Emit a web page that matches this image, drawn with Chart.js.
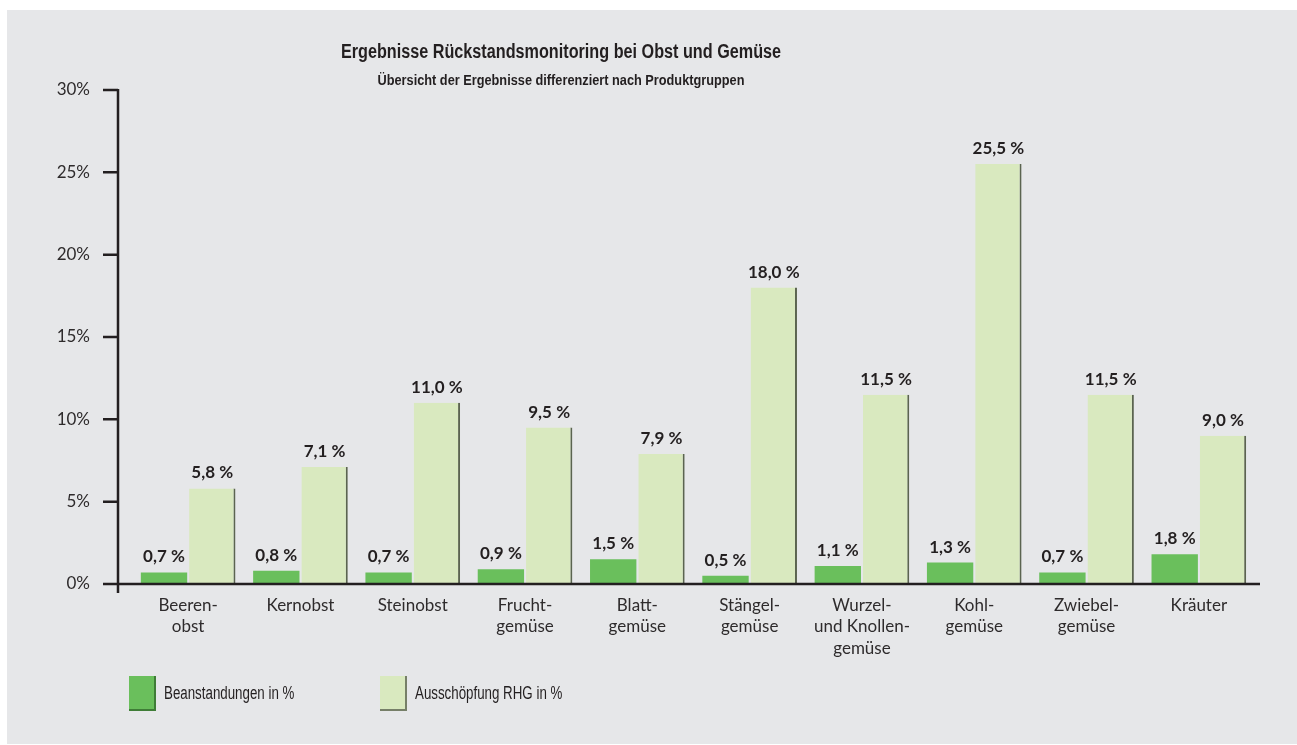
<!DOCTYPE html>
<html lang="de">
<head>
<meta charset="utf-8">
<script src="https://cdn.jsdelivr.net/npm/chart.js@4/dist/chart.umd.min.js"></script>
<style>
  html, body { margin: 0; padding: 0; background: #fff; }
  #panel { position: absolute; left: 7px; top: 10px; width: 1290px; height: 734px; background: #e6e7e9; }
  #chartBox { position: absolute; left: 0; top: 0; width: 1297px; height: 745px; }
  .ttl { position: absolute; left: 561px; white-space: nowrap;
         font-family: "Liberation Sans", sans-serif; font-weight: bold; color: #231f20; }
  #title { top: 39px; font-size: 20px; line-height: 24px; transform: translateX(-50%) scaleX(0.81); }
  #subtitle { top: 71px; font-size: 15px; line-height: 18px; transform: translateX(-50%) scaleX(0.85); }
  .leg { position: absolute; top: 676px; height: 35px; display: flex; align-items: center;
         font-family: "Liberation Sans", sans-serif; font-size: 18px; color: #231f20; white-space: nowrap; }
  .leg span { display: inline-block; transform: scaleX(0.74); transform-origin: left center; }
  .sw { width: 25px; height: 33px; margin-right: 8px; border-right: 2px solid; border-bottom: 2px solid; }
</style>
</head>
<body>
<div id="panel"></div>
<div id="chartBox"><canvas id="resChart" width="1297" height="745"></canvas></div>
<div id="title" class="ttl">Ergebnisse Rückstandsmonitoring bei Obst und Gemüse</div>
<div id="subtitle" class="ttl">Übersicht der Ergebnisse differenziert nach Produktgruppen</div>
<div id="legend"></div>
<script>
const categories = [
  ["Beeren-", "obst"],
  "Kernobst",
  "Steinobst",
  ["Frucht-", "gemüse"],
  ["Blatt-", "gemüse"],
  ["Stängel-", "gemüse"],
  ["Wurzel-", "und Knollen-", "gemüse"],
  ["Kohl-", "gemüse"],
  ["Zwiebel-", "gemüse"],
  "Kräuter"
];
const beanstandungen = [0.7, 0.8, 0.7, 0.9, 1.5, 0.5, 1.1, 1.3, 0.7, 1.8];
const ausschoepfung = [5.8, 7.1, 11.0, 9.5, 7.9, 18.0, 11.5, 25.5, 11.5, 9.0];
const seriesNames = ["Beanstandungen in %", "Ausschöpfung RHG in %"];
const yTicks = [0, 5, 10, 15, 20, 25, 30];

const darkGreen = "#6abf5c";
const lightGreen = "#d9e9bf";
const ink = "#231f20";

// axis lines drawn slightly outside the plot, like the original
const axisLines = {
  id: "axisLines",
  afterDraw(chart) {
    const ctx = chart.ctx;
    const a = chart.chartArea;
    const y = chart.scales.y;
    const ax = a.left - 14;
    ctx.save();
    ctx.strokeStyle = ink;
    ctx.lineWidth = 2.5;
    ctx.beginPath();
    ctx.moveTo(ax, y.getPixelForValue(30) - 1);
    ctx.lineTo(ax, y.getPixelForValue(0) + 9);
    yTicks.forEach(v => {
      const py = y.getPixelForValue(v);
      ctx.moveTo(ax - 15, py);
      ctx.lineTo(ax, py);
    });
    ctx.moveTo(ax, y.getPixelForValue(0));
    ctx.lineTo(a.right + 5, y.getPixelForValue(0));
    ctx.stroke();
    ctx.restore();
  }
};

const valueLabels = {
  id: "valueLabels",
  afterDatasetsDraw(chart) {
    const ctx = chart.ctx;
    ctx.save();
    ctx.font = "bold 17px Lato, sans-serif";
    ctx.fillStyle = ink;
    ctx.textAlign = "center";
    ctx.textBaseline = "alphabetic";
    chart.data.datasets.forEach((ds, i) => {
      chart.getDatasetMeta(i).data.forEach((bar, j) => {
        const txt = ds.data[j].toFixed(1).replace(".", ",") + "\u202f%";
        ctx.fillText(txt, bar.x, bar.y - 10);
      });
    });
    ctx.restore();
  }
};

const ctx = document.getElementById("resChart").getContext("2d");
new Chart(ctx, {
  type: "bar",
  data: {
    labels: categories,
    datasets: [{
      label: seriesNames[0],
      data: beanstandungen,
      backgroundColor: darkGreen,
      borderWidth: 0,
      barPercentage: 0.96,
      categoryPercentage: 0.86
    }, {
      label: seriesNames[1],
      data: ausschoepfung,
      backgroundColor: lightGreen,
      borderColor: "#5b6450",
      borderWidth: { top: 0, right: 2, bottom: 0, left: 0 },
      borderSkipped: false,
      barPercentage: 0.96,
      categoryPercentage: 0.86
    }]
  },
  options: {
    responsive: false,
    animation: false,
    layout: { padding: { top: 90, right: 42, left: 0, bottom: 0 } },
    plugins: {
      legend: { display: false },
      tooltip: { enabled: false }
    },
    scales: {
      x: {
        grid: { display: false },
        border: { display: false },
        ticks: {
          color: "#2e2b2c",
          font: { family: "Lato", size: 17, lineHeight: 1.25 },
          padding: 3,
          maxRotation: 0,
          autoSkip: false
        },
        afterFit(s) { s.height = 161; }
      },
      y: {
        min: 0,
        max: 30,
        grid: { display: false },
        border: { display: false },
        afterBuildTicks(s) { s.ticks = yTicks.map(v => ({ value: v })); },
        ticks: {
          color: "#2e2b2c",
          font: { family: "Lato", size: 17 },
          padding: 34,
          callback: v => v + "%"
        },
        afterFit(s) { s.width = 132; }
      }
    }
  },
  plugins: [axisLines, valueLabels]
});

// legend below the chart
const legendColors = [[darkGreen, "#3f7d37"], [lightGreen, "#767f68"]];
const legendLeft = [129, 380];
const legendEl = document.getElementById("legend");
seriesNames.forEach((name, i) => {
  const item = document.createElement("div");
  item.className = "leg";
  item.style.left = legendLeft[i] + "px";
  const sw = document.createElement("div");
  sw.className = "sw";
  sw.style.background = legendColors[i][0];
  sw.style.borderColor = legendColors[i][1];
  const label = document.createElement("span");
  label.textContent = name;
  item.appendChild(sw);
  item.appendChild(label);
  legendEl.appendChild(item);
});
</script>
</body>
</html>
